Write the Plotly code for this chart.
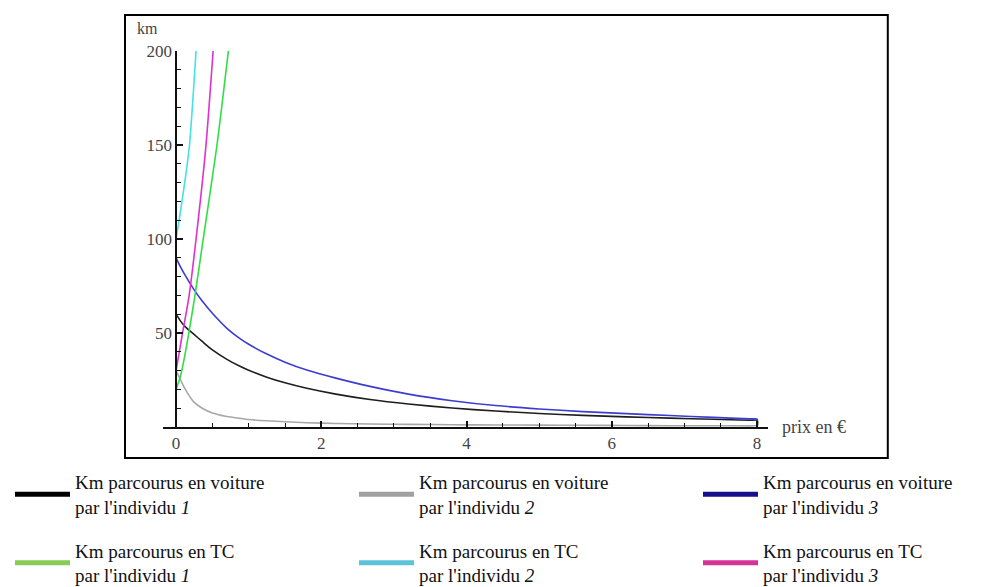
import plotly.graph_objects as go

# prix (€) for the car curves
prix_voiture = [0, 0.05, 0.12, 0.24, 0.36, 0.5, 0.7, 0.88, 1.0, 1.25, 1.5, 1.8, 2.2, 2.67,
                3.2, 3.8, 4.4, 5.0, 5.6, 6.2, 6.8, 7.4, 7.9, 8.0, 8.0]
km_voiture_1 = [60, 57, 53.5, 49.5, 45.5, 41, 36, 32.3, 30.2, 26.5, 23.5, 20.6, 17.5, 14.6,
                12.2, 10.1, 8.5, 7.2, 6.2, 5.4, 4.7, 4.1, 3.6, 3.5, 0]
km_voiture_2 = [30, 26, 20.5, 13.5, 10, 7.5, 5.6, 4.6, 4, 3.3, 2.8, 2.3, 1.9, 1.6,
                1.4, 1.2, 1.1, 1.0, 0.9, 0.8, 0.7, 0.7, 0.6, 0.6, 0]
km_voiture_3 = [90, 86, 81, 73.5, 67, 60.5, 52.5, 47, 44, 38.8, 34.5, 30.3, 26, 21.6,
                17.5, 14, 11.4, 9.6, 8.2, 7.1, 6.1, 5.1, 4.3, 4.2, 0]

# transports en commun
prix_tc_1 = [0, 0.06, 0.12, 0.26, 0.37, 0.56, 0.72]
km_tc_1 = [20, 27, 38, 70, 99, 149, 200]
prix_tc_2 = [0, 0.05, 0.13, 0.185, 0.275]
km_tc_2 = [100, 112, 133, 150, 200]
prix_tc_3 = [0, 0.08, 0.18, 0.275, 0.41, 0.51]
km_tc_3 = [30, 48, 70, 100, 149, 200]

noms = ["Km parcourus en voiture<br>par l'individu <i>1</i>",
        "Km parcourus en voiture<br>par l'individu <i>2</i>",
        "Km parcourus en voiture<br>par l'individu <i>3</i>",
        "Km parcourus en TC<br>par l'individu <i>1</i>",
        "Km parcourus en TC<br>par l'individu <i>2</i>",
        "Km parcourus en TC<br>par l'individu <i>3</i>"]
couleurs_courbes = ['#1e1e1e', '#a8a8a8', '#3c3cd2', '#33dd44', '#44e2e2', '#dd33cc']
couleurs_legende = ['#000000', '#a0a0a0', '#16108a', '#88cc55', '#5cc4d8', '#d63399']
# which legend column each entry goes in
colonnes = ['legend', 'legend2', 'legend3', 'legend', 'legend2', 'legend3']

series = [(prix_voiture, km_voiture_1), (prix_voiture, km_voiture_2), (prix_voiture, km_voiture_3),
          (prix_tc_1, km_tc_1), (prix_tc_2, km_tc_2), (prix_tc_3, km_tc_3)]

x_range = [-0.18, 8.15]
y_range = [0, 200]

fig = go.Figure()

for i, (x, y) in enumerate(series):
    fig.add_trace(go.Scatter(x=x, y=y, mode='lines', showlegend=False,
                             line=dict(color=couleurs_courbes[i], width=1.6,
                                       shape='spline', smoothing=0.7)))

# legend entries (thicker swatches like the original)
for i in range(6):
    fig.add_trace(go.Scatter(x=[None], y=[None], mode='lines', name=noms[i],
                             legend=colonnes[i], legendgroup='g%d' % i,
                             line=dict(color=couleurs_legende[i], width=5)))

serif = 'Liberation Serif, Times New Roman, serif'
pos_y = (0 - x_range[0]) / (x_range[1] - x_range[0])

W, H = 978, 579
leg_style = dict(xref='container', yref='container', y=0.214, xanchor='left', yanchor='top',
                 itemwidth=55, tracegroupgap=16, bgcolor='rgba(0,0,0,0)',
                 font=dict(family=serif, size=19, color='#111'))

fig.update_layout(
    width=W, height=H,
    margin=dict(l=155, r=218, t=43, b=160, autoexpand=False),
    plot_bgcolor='white', paper_bgcolor='white',
    font=dict(family=serif, size=17, color='#444'),
    xaxis=dict(range=x_range, showgrid=False, zeroline=False, showline=True,
               linecolor='#111', linewidth=1.5, ticks='inside', ticklen=6, tickwidth=1.5,
               tickcolor='#111', tickvals=[0, 2, 4, 6, 8],
               minor=dict(dtick=0.5, ticks='inside', ticklen=4, tickcolor='#111', tickwidth=1)),
    yaxis=dict(range=y_range, showgrid=False, zeroline=False, showline=True,
               linecolor='#111', linewidth=1.5, ticks='inside', ticklen=6, tickwidth=1.5,
               tickcolor='#111', tickvals=[50, 100, 150, 200],
               anchor='free', position=pos_y,
               minor=dict(dtick=10, ticks='inside', ticklen=4, tickcolor='#111', tickwidth=1)),
    legend=dict(x=2 / W, **leg_style),
    legend2=dict(x=346 / W, **leg_style),
    legend3=dict(x=690 / W, **leg_style),
    annotations=[
        dict(text='km', xref='paper', yref='paper', x=-0.025, y=1.06, showarrow=False,
             xanchor='center', yanchor='middle', font=dict(family=serif, size=16, color='#444')),
        dict(text='prix en €', xref='paper', yref='paper', x=1.02, y=0.0, showarrow=False,
             xanchor='left', yanchor='middle', font=dict(family=serif, size=18, color='#444')),
    ],
    shapes=[dict(type='rect', xref='paper', yref='paper', x0=-0.0628, x1=1.198,
                 y0=-0.0824, y1=1.0957, line=dict(color='black', width=2))],
)

fig.write_html("out.html")
